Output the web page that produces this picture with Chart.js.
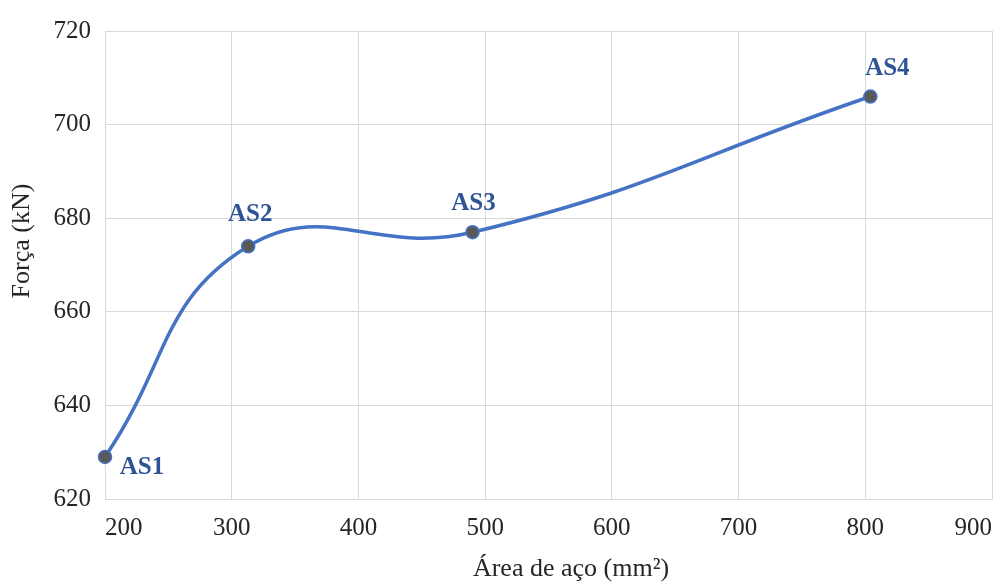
<!DOCTYPE html>
<html><head><meta charset="utf-8">
<script src="https://cdn.jsdelivr.net/npm/chart.js@4.4.1/dist/chart.umd.min.js"></script>
<style>html,body{margin:0;padding:0;background:#fff;}#wrap{width:1000px;height:582px;}</style>
</head><body><div id="wrap"><canvas id="c" width="1000" height="582"></canvas></div>
<script>
// ---- data ----
const pointLabels = ['AS1', 'AS2', 'AS3', 'AS4'];
const steelArea = [200, 313, 490, 804];   // mm²
const force = [629, 674, 677, 706];       // kN
const xTitle = 'Área de aço (mm²)';
const yTitle = 'Força (kN)';
const xRange = [200, 900, 100];
const yRange = [620, 720, 20];

const SERIF = "'Liberation Serif', 'Times New Roman', serif";
const labelOffsets = [[37, 11], [2, -32], [1, -29], [17, -28]];

const pointLabelPlugin = {
  id: 'pointLabelPlugin',
  afterDatasetsDraw(chart) {
    const ctx = chart.ctx;
    const meta = chart.getDatasetMeta(0);
    ctx.save();
    ctx.font = "bold 25px " + SERIF;
    ctx.fillStyle = '#2F5496';
    ctx.textAlign = 'center';
    ctx.textBaseline = 'middle';
    meta.data.forEach((el, i) => {
      const o = labelOffsets[i];
      ctx.fillText(pointLabels[i], el.x + o[0], el.y + o[1]);
    });
    ctx.restore();
  }
};

const axisTitlePlugin = {
  id: 'axisTitlePlugin',
  afterDraw(chart) {
    const ctx = chart.ctx;
    ctx.save();
    ctx.font = "26px " + SERIF;
    ctx.fillStyle = '#262626';
    ctx.textAlign = 'center';
    ctx.textBaseline = 'middle';
    ctx.fillText(xTitle, 571, 569);
    ctx.translate(22, 241);
    ctx.rotate(-Math.PI / 2);
    ctx.fillText(yTitle, 0, 0);
    ctx.restore();
  }
};

new Chart(document.getElementById('c'), {
  type: 'line',
  data: {
    datasets: [{
      data: steelArea.map((x, i) => ({ x: x, y: force[i] })),
      borderColor: '#4472C4',
      borderWidth: 3.5,
      tension: 0.45,
      cubicInterpolationMode: 'default',
      pointRadius: 6.5,
      pointBackgroundColor: '#595959',
      pointBorderColor: '#4472C4',
      pointBorderWidth: 1.5,
      clip: false,
      fill: false
    }]
  },
  options: {
    responsive: false,
    animation: false,
    devicePixelRatio: 1,
    layout: { padding: { left: 0, top: 31, right: 8, bottom: 0 } },
    plugins: { legend: { display: false }, tooltip: { enabled: false } },
    scales: {
      x: {
        type: 'linear',
        min: xRange[0], max: xRange[1],
        grid: { color: '#D9D9D9', lineWidth: 1, drawTicks: false },
        border: { color: '#D9D9D9', width: 1 },
        ticks: { stepSize: xRange[2], padding: 14, align: 'inner', maxRotation: 0,
                 color: '#262626', font: { family: SERIF, size: 25 } },
        afterFit(s) { s.height = 83; s.paddingLeft = 0; s.paddingRight = 0; }
      },
      y: {
        min: yRange[0], max: yRange[1],
        grid: { color: '#D9D9D9', lineWidth: 1, drawTicks: false },
        border: { color: '#D9D9D9', width: 1 },
        ticks: { stepSize: yRange[2], padding: 14,
                 color: '#262626', font: { family: SERIF, size: 25 } },
        afterFit(s) { s.width = 105; s.paddingTop = 0; s.paddingBottom = 0; }
      }
    }
  },
  plugins: [pointLabelPlugin, axisTitlePlugin]
});
</script>
</body></html>
